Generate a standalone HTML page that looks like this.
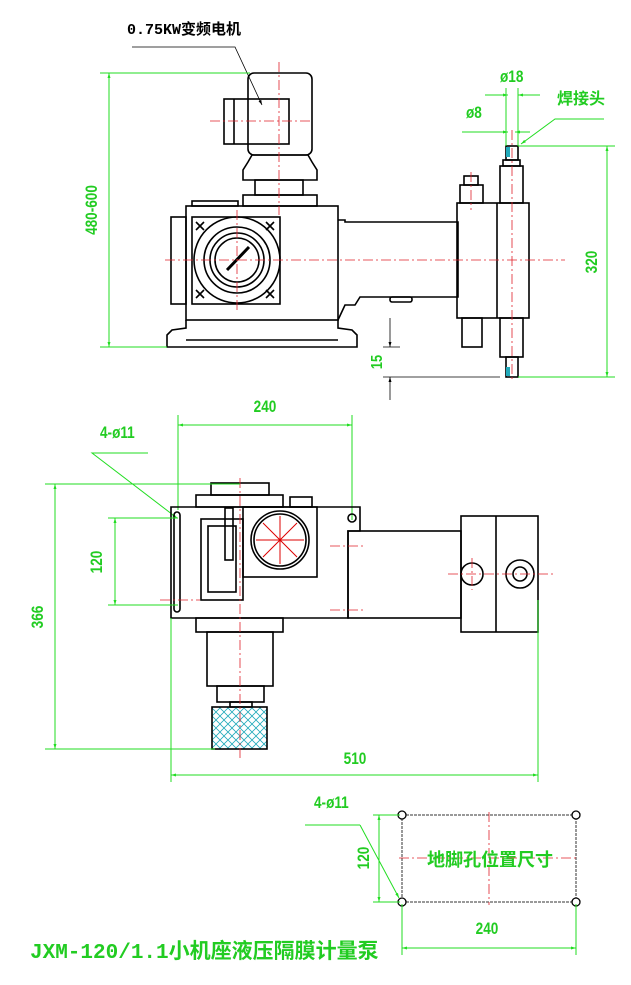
<!DOCTYPE html>
<html><head><meta charset="utf-8"><style>
html,body{margin:0;padding:0;background:#fff;}
svg{display:block;}
.k{stroke:#000;stroke-width:1.6;fill:none;}
.r{stroke:#e0202a;stroke-width:0.8;fill:none;stroke-dasharray:10 3 2 3;}
.g{stroke:#22dd22;stroke-width:1;fill:none;}
.gt{fill:#22cc22;font-family:"Liberation Sans Narrow","Liberation Sans",sans-serif;font-weight:bold;}
.ct{fill:#22cc22;font-family:"Liberation Sans","Noto Sans CJK SC",sans-serif;font-weight:bold;}
</style></head><body>
<svg width="631" height="985" viewBox="0 0 631 985" xmlns="http://www.w3.org/2000/svg">
<defs>
<marker id="a" viewBox="0 0 10 10" refX="10" refY="5" markerWidth="10" markerHeight="5" orient="auto-start-reverse" markerUnits="userSpaceOnUse"><path d="M0,2 L10,5 L0,8z" fill="#22dd22"/></marker>
<marker id="ab" viewBox="0 0 10 10" refX="10" refY="5" markerWidth="10" markerHeight="5" orient="auto-start-reverse" markerUnits="userSpaceOnUse"><path d="M0,2 L10,5 L0,8z" fill="#000"/></marker>
<pattern id="h" width="8" height="8" patternUnits="userSpaceOnUse"><path d="M0,0L8,8M8,0L0,8" stroke="#2ab" stroke-width="0.8"/></pattern>
</defs>

<!-- ===== TOP (side) VIEW ===== -->
<text x="127" y="34" font-family="Liberation Mono,Noto Sans CJK SC,monospace" font-weight="bold" font-size="15">0.75KW变频电机</text>
<path d="M132,47 L235,47 L262,105" stroke="#000" stroke-width="0.8" fill="none" marker-end="url(#ab)"/>
<rect class="k" x="248" y="73" width="64" height="82" rx="6"/>
<rect class="k" x="224" y="99" width="65" height="45"/>
<line class="k" x1="234" y1="99" x2="234" y2="144"/>
<path class="k" d="M252,155 L308,155 L312,162 L317,170 L317,180 L243,180 L243,170 L248,162z"/>
<rect class="k" x="255" y="180" width="48" height="15"/>
<rect class="k" x="243" y="195" width="74" height="11"/>
<rect class="k" x="186" y="206" width="152" height="114"/>
<rect class="k" x="192" y="201" width="46" height="5"/>
<path class="k" d="M186,320 L186,328 L172,330 L167,335 L167,347 L357,347 L357,335 L352,330 L338,328 L338,320"/>
<line class="k" x1="186" y1="340" x2="338" y2="340" stroke-width="0.8"/>
<rect class="k" x="171" y="217" width="15" height="87"/>
<rect class="k" x="192" y="217" width="88" height="87"/>
<circle class="k" cx="237" cy="260" r="43" stroke-width="0.8"/>
<circle class="k" cx="237" cy="260" r="33"/>
<circle class="k" cx="237" cy="260" r="27"/>
<circle class="k" cx="237" cy="260" r="22"/>
<path d="M227,270 L249,247" stroke="#000" stroke-width="3"/>
<path class="k" stroke-width="0.8" d="M196,222l8,8M196,230l8,-8M266,222l8,8M266,230l8,-8M196,290l8,8M196,298l8,-8M266,290l8,8M266,298l8,-8"/>
<path class="k" d="M338,220 L345,220 L345,222 L458,222 L458,297 L360,297 L355,305 L345,305 L338,320"/>
<rect class="k" x="390" y="297" width="22" height="5" rx="2"/>
<rect class="k" x="457" y="203" width="72" height="115"/>
<line class="k" x1="497" y1="203" x2="497" y2="318"/>
<rect class="k" x="460" y="185" width="23" height="18"/>
<rect class="k" x="464" y="176" width="14" height="9"/>
<rect class="k" x="462" y="318" width="20" height="29"/>
<rect class="k" x="500" y="166" width="23" height="37"/>
<rect class="k" x="503" y="160" width="17" height="6"/>
<rect class="k" x="506" y="146" width="12" height="14"/>
<rect class="k" x="500" y="318" width="23" height="39"/>
<rect class="k" x="506" y="357" width="12" height="20"/>
<rect x="506" y="147" width="4" height="10" fill="#2ab"/>
<rect x="506" y="367" width="4" height="9" fill="#2ab"/>
<line class="r" x1="279" y1="62" x2="279" y2="215"/>
<line class="r" x1="210" y1="121" x2="312" y2="121"/>
<line class="r" x1="165" y1="260" x2="565" y2="260"/>
<line class="r" x1="237" y1="210" x2="237" y2="310"/>
<line class="r" x1="512" y1="130" x2="512" y2="380"/>
<line class="r" x1="471" y1="172" x2="471" y2="210"/>
<line class="g" x1="100" y1="73" x2="250" y2="73"/>
<line class="g" x1="100" y1="347" x2="167" y2="347"/>
<line class="g" x1="109" y1="73" x2="109" y2="347" marker-start="url(#a)" marker-end="url(#a)"/>
<text class="gt" font-size="17" transform="translate(97,210) rotate(-90) scale(0.8,1)" text-anchor="middle">480-600</text>
<line class="g" x1="518" y1="146" x2="615" y2="146"/>
<line class="g" x1="518" y1="377" x2="615" y2="377"/>
<line class="g" x1="607" y1="146" x2="607" y2="377" marker-start="url(#a)" marker-end="url(#a)"/>
<text class="gt" font-size="17" transform="translate(597,262) rotate(-90) scale(0.8,1)" text-anchor="middle">320</text>
<line x1="383" y1="347" x2="400" y2="347" stroke="#000" stroke-width="0.8"/>
<line x1="383" y1="377" x2="500" y2="377" stroke="#000" stroke-width="0.8"/>
<line x1="390" y1="318" x2="390" y2="347" stroke="#000" stroke-width="0.8" marker-end="url(#ab)"/>
<line x1="390" y1="400" x2="390" y2="377" stroke="#000" stroke-width="0.8" marker-end="url(#ab)"/>
<text class="gt" font-size="16" transform="translate(382,362) rotate(-90) scale(0.8,1)" text-anchor="middle">15</text>
<text class="gt" font-size="17" transform="translate(500,82) scale(0.8,1)">ø18</text>
<line class="g" x1="485" y1="95" x2="508" y2="95" marker-end="url(#a)"/>
<line class="g" x1="540" y1="95" x2="518" y2="95" marker-end="url(#a)"/>
<text class="gt" font-size="17" transform="translate(466,118) scale(0.8,1)">ø8</text>
<line class="g" x1="462" y1="132" x2="508" y2="132" marker-end="url(#a)"/>
<line class="g" x1="530" y1="132" x2="515" y2="132" marker-end="url(#a)"/>
<line class="g" x1="506" y1="88" x2="506" y2="146"/><line class="g" x1="518" y1="88" x2="518" y2="146"/>
<text class="ct" font-size="16" x="557" y="104">焊接头</text>
<path class="g" d="M604,119 L555,119 L521,144" marker-end="url(#a)"/>

<!-- ===== BOTTOM (plan) VIEW ===== -->
<line class="g" x1="178" y1="415" x2="178" y2="510"/>
<line class="g" x1="352" y1="415" x2="352" y2="520"/>
<line class="g" x1="178" y1="425" x2="352" y2="425" marker-start="url(#a)" marker-end="url(#a)"/>
<text class="gt" font-size="17" transform="translate(265,412) scale(0.8,1)" text-anchor="middle">240</text>
<text class="gt" font-size="17" transform="translate(100,438) scale(0.8,1)">4-ø11</text>
<path class="g" d="M148,453 L92,453 L177,518" marker-end="url(#a)"/>
<rect class="k" x="211" y="483" width="58" height="12"/>
<rect class="k" x="196" y="495" width="87" height="12"/>
<rect class="k" x="290" y="497" width="22" height="10"/>
<path class="k" d="M171,507 L360,507 L360,531 L348,531 L348,618 L171,618z"/>
<rect class="k" x="174" y="512" width="6" height="100" rx="3"/>
<rect class="k" x="201" y="519" width="42" height="81"/>
<rect class="k" x="208" y="526" width="28" height="66"/>
<rect class="k" x="225" y="508" width="8" height="52"/>
<rect class="k" x="243" y="507" width="74" height="70"/>
<circle class="k" cx="280" cy="540" r="29"/>
<circle class="k" cx="280" cy="540" r="26"/>
<g stroke="#d00" stroke-width="1" fill="none">
<path d="M280,540 L280,516 M280,540 L297,523 M280,540 L304,540 M280,540 L297,557 M280,540 L280,564 M280,540 L263,557 M280,540 L256,540 M280,540 L263,523"/>
</g>
<circle cx="352" cy="518" r="4" class="k" stroke-width="1"/>
<rect class="k" x="348" y="531" width="113" height="87"/>
<rect class="k" x="461" y="516" width="77" height="116"/>
<line class="k" x1="496" y1="516" x2="496" y2="632"/>
<circle class="k" cx="472" cy="574" r="11"/>
<circle class="k" cx="520" cy="574" r="14"/>
<circle class="k" cx="520" cy="574" r="7"/>
<rect class="k" x="196" y="618" width="87" height="14"/>
<rect class="k" x="207" y="632" width="66" height="54"/>
<rect class="k" x="217" y="686" width="47" height="16"/>
<rect class="k" x="230" y="702" width="22" height="5"/>
<rect x="212" y="707" width="55" height="42" fill="url(#h)" stroke="#000" stroke-width="1.6"/>
<line class="r" x1="240" y1="478" x2="240" y2="760"/>
<line class="r" x1="160" y1="600" x2="200" y2="600"/>
<line class="r" x1="330" y1="546" x2="365" y2="546"/>
<line class="r" x1="330" y1="610" x2="365" y2="610"/>
<line class="r" x1="448" y1="574" x2="555" y2="574"/>
<line class="r" x1="472" y1="558" x2="472" y2="590"/>
<line class="g" x1="45" y1="484" x2="240" y2="484"/>
<line class="g" x1="45" y1="749" x2="215" y2="749"/>
<line class="g" x1="55" y1="484" x2="55" y2="749" marker-start="url(#a)" marker-end="url(#a)"/>
<text class="gt" font-size="17" transform="translate(43,617) rotate(-90) scale(0.8,1)" text-anchor="middle">366</text>
<line class="g" x1="108" y1="518" x2="178" y2="518"/>
<line class="g" x1="108" y1="605" x2="178" y2="605"/>
<line class="g" x1="115" y1="518" x2="115" y2="605" marker-start="url(#a)" marker-end="url(#a)"/>
<text class="gt" font-size="17" transform="translate(102,562) rotate(-90) scale(0.8,1)" text-anchor="middle">120</text>
<line class="g" x1="171" y1="618" x2="171" y2="782"/>
<line class="g" x1="538" y1="600" x2="538" y2="782"/>
<line class="g" x1="171" y1="775" x2="538" y2="775" marker-start="url(#a)" marker-end="url(#a)"/>
<text class="gt" font-size="17" transform="translate(355,764) scale(0.8,1)" text-anchor="middle">510</text>

<!-- ===== FOOT HOLES ===== -->
<rect x="402" y="815" width="174" height="87" fill="none" stroke="#333" stroke-width="1" stroke-dasharray="3 1"/>
<line class="r" x1="489" y1="812" x2="489" y2="905"/>
<line class="r" x1="399" y1="858" x2="579" y2="858"/>
<circle cx="402" cy="815" r="4" fill="#fff" stroke="#000" stroke-width="1.3"/>
<circle cx="576" cy="815" r="4" fill="#fff" stroke="#000" stroke-width="1.3"/>
<circle cx="402" cy="902" r="4" fill="#fff" stroke="#000" stroke-width="1.3"/>
<circle cx="576" cy="902" r="4" fill="#fff" stroke="#000" stroke-width="1.3"/>
<text class="ct" font-size="18" x="490" y="866" text-anchor="middle">地脚孔位置尺寸</text>
<line class="g" x1="373" y1="815" x2="400" y2="815"/>
<line class="g" x1="373" y1="902" x2="400" y2="902"/>
<line class="g" x1="379" y1="815" x2="379" y2="902" marker-start="url(#a)" marker-end="url(#a)"/>
<text class="gt" font-size="17" transform="translate(369,858) rotate(-90) scale(0.8,1)" text-anchor="middle">120</text>
<text class="gt" font-size="17" transform="translate(314,808) scale(0.8,1)">4-ø11</text>
<path class="g" d="M360,825 L305,825" />
<path class="g" d="M360,825 L399,898" marker-end="url(#a)"/>
<line class="g" x1="402" y1="904" x2="402" y2="955"/>
<line class="g" x1="576" y1="904" x2="576" y2="955"/>
<line class="g" x1="402" y1="948" x2="576" y2="948" marker-start="url(#a)" marker-end="url(#a)"/>
<text class="gt" font-size="17" transform="translate(487,934) scale(0.8,1)" text-anchor="middle">240</text>

<text x="30" y="958" fill="#22cc22" font-family="Liberation Mono,Noto Sans CJK SC,monospace" font-weight="bold" font-size="21">JXM-120/1.1小机座液压隔膜计量泵</text>
</svg>
</body></html>
